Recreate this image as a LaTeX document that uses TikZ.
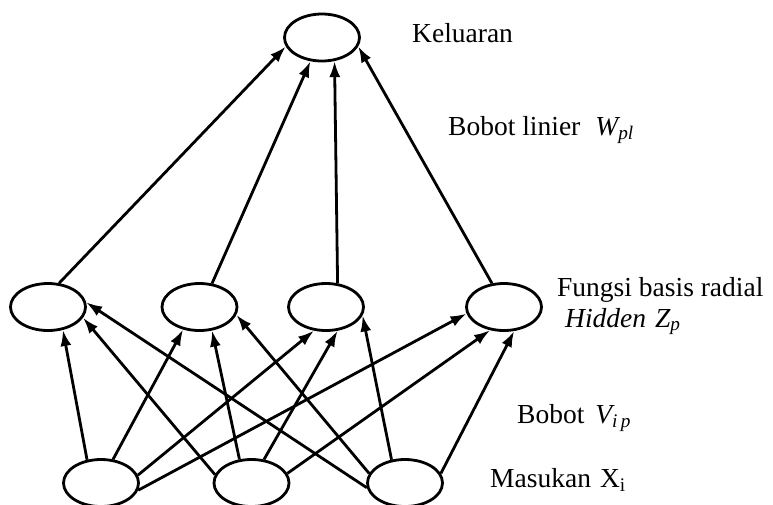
\documentclass[tikz,border=0pt]{standalone}
\usepackage{fontspec}
\setmainfont{Liberation Serif}
\usetikzlibrary{arrows.meta,shapes.geometric}

\begin{document}
\begin{tikzpicture}[x=1pt,y=-1pt,
    neuron/.style={ellipse,draw,line width=2.8pt,minimum width=75pt,minimum height=47pt,inner sep=0pt},
    syn/.style={-{Latex[length=16pt,width=11pt]},line width=2.8pt},
    lbl/.style={anchor=base west,inner sep=0pt,font=\fontsize{27.5}{30}\selectfont}]
  \useasboundingbox (0,0) rectangle (773,504);
  % output layer
  \node[neuron] (out) at (322,37.5) {};
  % hidden layer
  \node[neuron] (h1) at (48,307) {};
  \node[neuron] (h2) at (199.5,307) {};
  \node[neuron] (h3) at (326,307) {};
  \node[neuron] (h4) at (504,307) {};
  % input layer
  \node[neuron] (in1) at (101,483) {};
  \node[neuron] (in2) at (251.5,483) {};
  \node[neuron] (in3) at (405,483) {};
  % labels
  \node[lbl] (kel) at (412,42) {Keluaran};
  \node[lbl] (wpl) at (448,135) {Bobot linier\hspace{15pt}\textit{W\textsubscript{pl}}};
  \node[lbl] (fbr) at (557,296) {Fungsi basis radial};
  \node[lbl] (hid) at (565,327) {\textit{Hidden}\hspace{9pt}\textit{Z\textsubscript{p}}};
  \node[lbl] (vip) at (517,423) {Bobot\hspace{11pt}\textit{V\textsubscript{i\,p}}};
  \node[lbl] (msk) at (490,487) {Masukan\hspace{9pt}X\textsubscript{i}};
  % hidden -> output
  \draw[syn] (h1.65) -- (out.194);
  \draw[syn] (h2.62) -- (out.244);
  \draw[syn] (h3.64) -- (out.298);
  \draw[syn] (h4.117) -- (out.346);
  % input -> hidden
  \foreach \a/\p/\b/\q in {in1/121/h1/303, in1/63/h2/234, in1/12/h3/243, in1/349/h4/190,
                          in2/167/h1/343, in2/117/h2/298, in2/62/h3/296, in2/15/h4/239,
                          in3/187/h1/7, in3/165/h2/348, in3/120/h3/347, in3/15/h4/293}
    \draw[syn] (\a.\p) -- (\b.\q);
\end{tikzpicture}
\end{document}
